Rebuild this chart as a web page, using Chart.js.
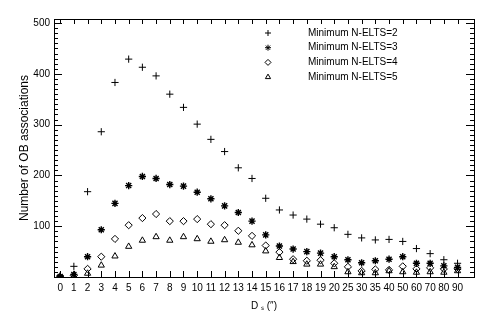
<!DOCTYPE html>
<html lang="en">
<head>
<meta charset="utf-8">
<script src="https://cdn.jsdelivr.net/npm/chart.js@4/dist/chart.umd.min.js"></script>
<style>
  html, body { margin: 0; padding: 0; background: #fff; }
  #wrap { width: 491px; height: 312px; position: relative; }
</style>
</head>
<body>
<div id="wrap"><canvas id="myChart"></canvas></div>
<script>
// separation bins (arcsec)
var xLabels = ["0","1","2","3","4","5","6","7","8","9","10","11","12","13","14","15","16","17","18","19","20","25","30","35","40","50","60","70","80","90"];
var yTicks = [100, 200, 300, 400, 500];

var nElts2 = [3, 21, 168, 286, 383, 429, 413, 396, 360, 334, 301, 271, 247, 215, 194, 155, 132, 122, 114, 104, 97, 84, 77, 73, 74, 70, 56, 46, 34, 27];
var nElts3 = [1, 5, 40, 93, 145, 180, 198, 194, 182, 179, 167, 154, 140, 127, 110, 83, 61, 55, 50, 47, 40, 34, 28, 32, 35, 40, 27, 27, 22, 19];
var nElts4 = [0, 3, 16, 40, 75, 102, 116, 124, 110, 110, 114, 104, 102, 91, 81, 62, 49, 35, 32, 33, 27, 20, 12, 15, 14, 21, 16, 18, 16, 16];
var nElts5 = [0, 2, 7, 23, 41, 60, 72, 79, 72, 79, 75, 70, 73, 68, 63, 51, 38, 30, 25, 25, 20, 10, 8, 8, 12, 10, 9, 10, 9, 12];

var seriesNames = ["Minimum N-ELTS=2", "Minimum N-ELTS=3", "Minimum N-ELTS=4", "Minimum N-ELTS=5"];
var seriesData = [nElts2, nElts3, nElts4, nElts5];
var seriesStyles = ["cross", "star", "rectRot", "triangle"];

var FONT = "'Liberation Sans', Arial, sans-serif";

function toPoints(arr) {
  return arr.map(function(v, i) { return { x: i, y: v }; });
}

var datasets = seriesData.map(function(arr, k) {
  return {
    label: seriesNames[k],
    data: toPoints(arr),
    pointStyle: seriesStyles[k],
    pointRadius: 3.6,
    borderColor: "#000",
    backgroundColor: "rgba(0,0,0,0)",
    borderWidth: k == 1 ? 1.4 : 1,
    showLine: false
  };
});

// frame + inward ticks, IDL style
var framePlugin = {
  id: "frame",
  afterDraw: function(chart) {
    var ctx = chart.ctx, a = chart.chartArea;
    var xs = chart.scales.x, ys = chart.scales.y;
    ctx.save();
    ctx.strokeStyle = "#000";
    ctx.lineWidth = 1;
    ctx.strokeRect(Math.round(a.left) + 0.5, Math.round(a.top) + 0.5,
                   Math.round(a.right - a.left), Math.round(a.bottom - a.top));
    ctx.beginPath();
    for (var i = 0; i < xLabels.length; i++) {
      var px = Math.round(xs.getPixelForValue(i)) + 0.5;
      ctx.moveTo(px, a.bottom); ctx.lineTo(px, a.bottom - 6);
      ctx.moveTo(px, a.top); ctx.lineTo(px, a.top + 5);
    }
    for (var v = 10; v <= 500; v += 10) {
      var py = Math.round(ys.getPixelForValue(v)) + 0.5;
      var len = (v % 100 == 0) ? 8 : 4;
      ctx.moveTo(a.left, py); ctx.lineTo(a.left + len, py);
      ctx.moveTo(a.right, py); ctx.lineTo(a.right - len, py);
    }
    ctx.stroke();
    ctx.restore();
  }
};

// legend drawn inside the plot
var legendPlugin = {
  id: "innerLegend",
  afterDraw: function(chart) {
    var ctx = chart.ctx, a = chart.chartArea;
    ctx.save();
    ctx.font = "10px " + FONT;
    ctx.strokeStyle = "#000";
    ctx.textBaseline = "middle";
    for (var k = 0; k < seriesNames.length; k++) {
      var y = a.top + 14 + k * 14.7;
      ctx.fillStyle = "rgba(0,0,0,0)";
      Chart.helpers.drawPoint(ctx, { pointStyle: seriesStyles[k], radius: 3, rotation: 0, borderWidth: 1 }, a.left + 214, y);
      ctx.fillStyle = "#000";
      ctx.fillText(seriesNames[k], a.left + 254, y);
    }
    ctx.restore();
  }
};

var chart = new Chart(document.getElementById("myChart"), {
  type: "scatter",
  data: { datasets: datasets },
  plugins: [framePlugin, legendPlugin],
  options: {
    responsive: true,
    maintainAspectRatio: false,
    animation: false,
    layout: { padding: { left: 0, top: 19, right: 17, bottom: 0 } },
    plugins: { legend: { display: false }, tooltip: { enabled: false } },
    scales: {
      x: {
        type: "linear",
        min: -0.45,
        max: 30.2,
        grid: { display: false, drawTicks: false },
        border: { display: false },
        afterBuildTicks: function(scale) {
          scale.ticks = xLabels.map(function(l, i) { return { value: i }; });
        },
        afterFit: function(scale) { scale.height = 35; },
        ticks: {
          autoSkip: false,
          maxRotation: 0,
          padding: 5,
          color: "#000",
          font: { family: FONT, size: 10 },
          callback: function(v) { return xLabels[v]; }
        },
        title: {
          display: true,
          text: "D \u209b (\u2033)",
          color: "#000",
          font: { family: FONT, size: 10 },
          padding: { top: 2, bottom: 0 }
        }
      },
      y: {
        min: 0,
        max: 508,
        grid: { display: false, drawTicks: false },
        border: { display: false },
        afterBuildTicks: function(scale) {
          scale.ticks = yTicks.map(function(v) { return { value: v }; });
        },
        afterFit: function(scale) { scale.width = 54; },
        ticks: {
          padding: 4,
          color: "#000",
          font: { family: FONT, size: 10 }
        },
        title: {
          display: true,
          text: "Number of OB associations",
          color: "#000",
          font: { family: FONT, size: 12 },
          padding: { top: 17, bottom: 0 }
        }
      }
    }
  }
});
</script>
</body>
</html>
